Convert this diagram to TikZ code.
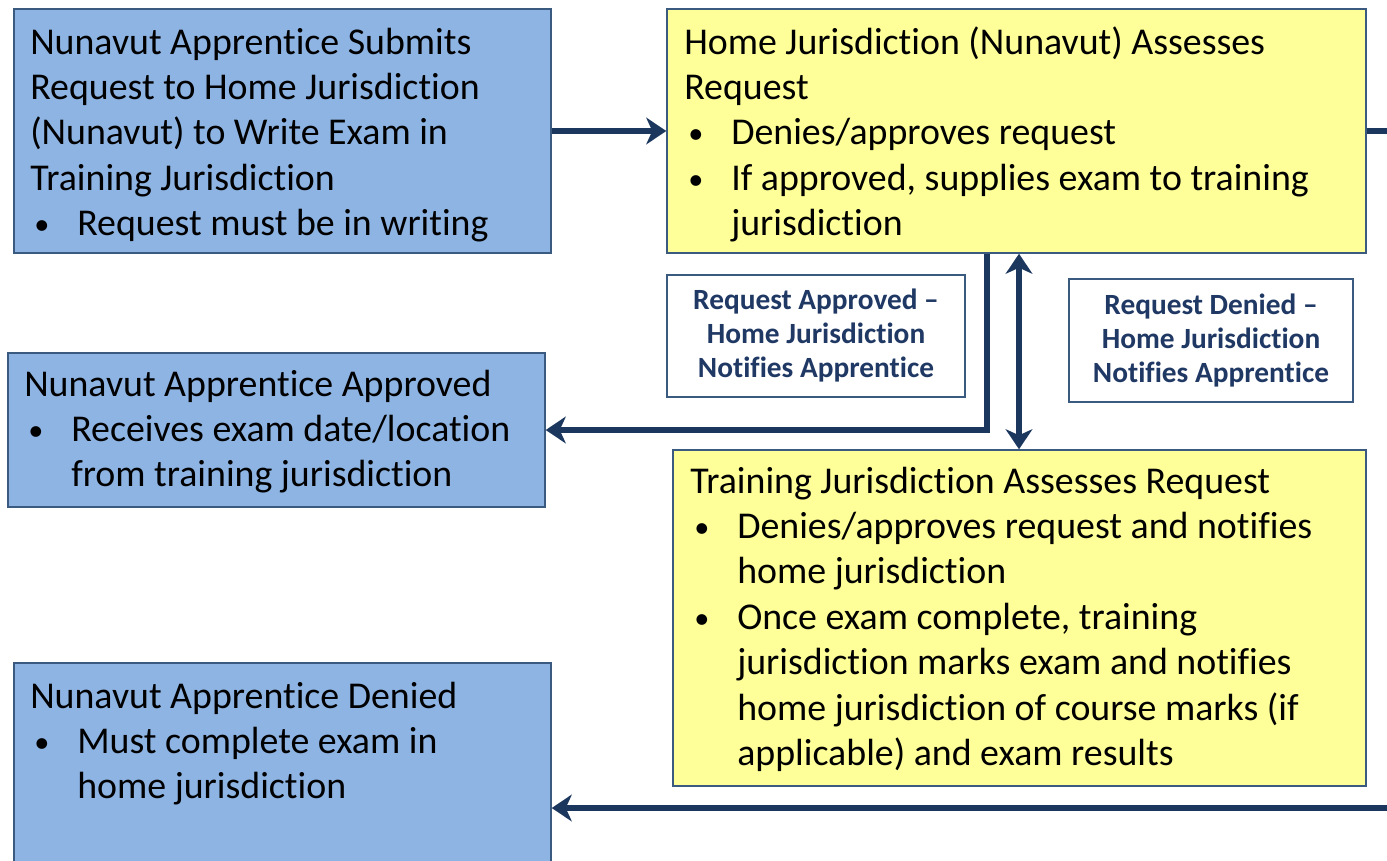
\documentclass[tikz,border=0pt]{standalone}
\usepackage{fontspec}
\setmainfont{Carlito}[Ligatures=NoCommon]
\usetikzlibrary{arrows.meta,fit}
\definecolor{boxblue}{HTML}{8EB4E3}
\definecolor{boxyellow}{HTML}{FFFF99}
\definecolor{edgecol}{HTML}{3B5A80}
\definecolor{navy}{HTML}{1B375E}
\definecolor{labeltext}{HTML}{1F3864}
\newcommand\bul{\makebox[35.25pt][l]{\hspace{3pt}\raisebox{1pt}{\scalebox{0.8}{\textbullet}}}}
\newcommand\ind{\hspace*{35.25pt}}
\newcommand\Lines[1]{\begin{tabular}[t]{@{}l@{}}#1\end{tabular}}
\begin{document}
\begin{tikzpicture}[x=0.75pt,y=-0.75pt,
  bluebox/.style={draw=edgecol, line width=1.1pt, fill=boxblue, inner sep=0pt},
  yellowbox/.style={draw=edgecol, line width=1.1pt, fill=boxyellow, inner sep=0pt},
  body/.style={anchor=base west, inner sep=0pt, font=\fontsize{28.4}{34.1}\selectfont},
  lbl/.style={draw=edgecol, line width=1.1pt, fill=white, inner sep=0pt, align=center,
    font=\bfseries\fontsize{22}{25.5}\selectfont, text=labeltext},
  lbltext/.style={inner sep=0pt, align=center, font=\bfseries\fontsize{22}{25.5}\selectfont, text=labeltext},
  conn/.style={draw=navy, line width=4.5pt},
  tip/.style={-{Stealth[length=15pt,width=20pt,inset=4.5pt]}},
  tips/.style={{Stealth[length=15pt,width=20pt,inset=4.5pt]}-{Stealth[length=15pt,width=20pt,inset=4.5pt]}}]
\useasboundingbox (0,0) rectangle (1387,860);
\fill[white] (0,0) rectangle (1387,860);

% boxes
\node[bluebox, fit={(14,9) (551,253)}] (boxA) {};
\node[yellowbox, fit={(667,9) (1366,253)}] (boxB) {};
\node[bluebox, fit={(8,353) (545,507)}] (boxC) {};
\node[yellowbox, fit={(673,450) (1366,786)}] (boxD) {};
\node[bluebox, fit={(14,663) (551,868)}] (boxE) {};
\node[lbl, fit={(667,275) (965,397)}] (lab1) {};
\node[lbl, fit={(1069,279) (1353,402)}] (lab2) {};

% texts
\node[body] (tA) at (30,54) {\Lines{Nunavut Apprentice Submits\\
Request to Home Jurisdiction\\
(Nunavut) to Write Exam in\\
Training Jurisdiction\\
\bul Request must be in writing}};
\node[body] (tB) at (684,54) {\Lines{Home Jurisdiction (Nunavut) Assesses\\
Request\\
\bul Denies/approves request\\
\bul If approved, supplies exam to training\\
\ind jurisdiction}};
\node[body] (tC) at (24,396) {\Lines{Nunavut Apprentice Approved\\
\bul Receives exam date/location\\
\ind from training jurisdiction}};
\node[body] (tD) at (690,493) {\Lines{Training Jurisdiction Assesses Request\\
\bul Denies/approves request and notifies\\
\ind home jurisdiction\\
\bul Once exam complete, training\\
\ind jurisdiction marks exam and notifies\\
\ind home jurisdiction of course marks (if\\
\ind applicable) and exam results}};
\node[body] (tE) at (30,708) {\Lines{Nunavut Apprentice Denied\\
\bul Must complete exam in\\
\ind home jurisdiction}};

\node[lbltext] (tL1) at (lab1.center) {Request Approved --\\Home Jurisdiction\\Notifies Apprentice};
\node[lbltext] (tL2) at (lab2.center) {Request Denied --\\Home Jurisdiction\\Notifies Apprentice};

% connectors
\coordinate (rightTop) at (1390,131);
\coordinate (rightBot) at (1390,808);
\coordinate (xdown) at (987,0);
\coordinate (xdbl) at (1019,0);

\draw[conn, tip] (boxA.east) -- (boxB.west);
\draw[conn] (boxB.east) -- (rightTop);
\draw[conn, tip] (boxB.south -| xdown) |- (boxC.east);
\draw[conn, tips] (boxB.south -| xdbl) -- (boxD.north -| xdbl);
\draw[conn, tip] (rightBot) -- (boxE.east |- rightBot);
\end{tikzpicture}
\end{document}
